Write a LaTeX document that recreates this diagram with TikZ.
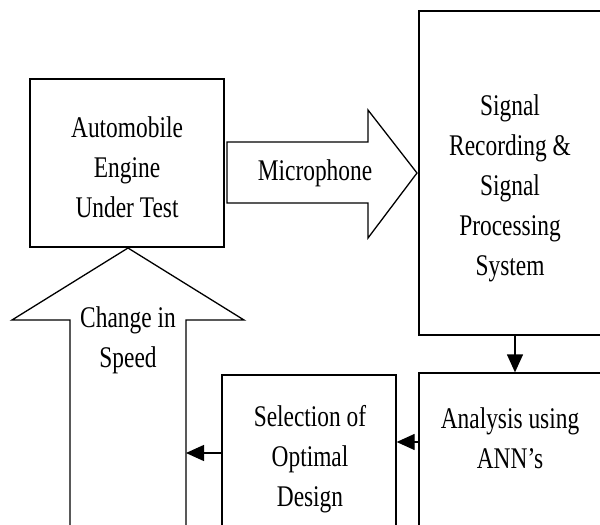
\documentclass[tikz,border=0pt]{standalone}
\usepackage{fontspec}
\newfontfamily\condfont[FakeStretch=0.78]{Liberation Serif}
\usetikzlibrary{arrows.meta}

\begin{document}
\begin{tikzpicture}[x=1pt,y=-1pt,
    blk/.style={draw, line width=1.3pt, inner sep=0pt},
    lbl/.style={font=\condfont\fontsize{30}{40}\selectfont, align=center, inner sep=0pt},
    fatarrow/.style={draw, line width=1.3pt, line join=miter},
    flow/.style={line width=1.3pt, -{Triangle[length=18pt,width=16pt]}}]
      \useasboundingbox (0,0) rectangle (600,525);
      \clip (0,0) rectangle (600,525);
      %%%%%%%%%%%%%%%%%%%%%%%%%%%%%%%%%%%%%%%%%%%%%%%
      \node[blk, minimum width=194pt, minimum height=168pt] (engine) at (127,163) {};
      \node[lbl] (enginetxt) at (127,167) {Automobile\\Engine\\Under Test};
      %%%%%%%%%%%%%%%%%%%%%%%%%%%%%%%%%%%%%%%%%%%%%%%
      \draw[fatarrow] (227,142) -- (368,142) -- (368,110) -- (417,173)
                      -- (368,238) -- (368,203) -- (227,203) -- cycle;
      \node[lbl] (mic) at (315,173) {Microphone};
      %%%%%%%%%%%%%%%%%%%%%%%%%%%%%%%%%%%%%%%%%%%%%%%
      \node[blk, minimum width=182pt, minimum height=324pt] (signal) at (510,173) {};
      \node[lbl] (signaltxt) at (510,188) {Signal\\Recording \&\\Signal\\Processing\\System};
      %%%%%%%%%%%%%%%%%%%%%%%%%%%%%%%%%%%%%%%%%%%%%%%
      \node[blk, minimum width=182pt, minimum height=154pt] (ann) at (510,450) {};
      \node[lbl] (anntxt) at (510,438) {Analysis using\\ANN’s};
      %%%%%%%%%%%%%%%%%%%%%%%%%%%%%%%%%%%%%%%%%%%%%%%
      \node[blk, minimum width=174pt, minimum height=152pt] (sel) at (309,451) {};
      \node[lbl] (seltxt) at (310,459) {Selection of\\Optimal\\Design};
      %%%%%%%%%%%%%%%%%%%%%%%%%%%%%%%%%%%%%%%%%%%%%%%
      \draw[fatarrow] (70,530) -- (70,320) -- (12,320) -- (128,248)
                      -- (244,320) -- (186,320) -- (186,530);
      \node[lbl] (speed) at (128,340) {Change in\\Speed};
      \coordinate (shaft) at (186,453);
      %%%%%%%%%%%%%%%%%%%%%%%%%%%%%%%%%%%%%%%%%%%%%%%
      \draw[flow] ([xshift=5pt]signal.south) -- ([xshift=5pt]ann.north);
      \draw[flow] ([yshift=8pt]ann.west) -- ([yshift=8pt]ann.west -| sel.east);
      \draw[flow] (sel.west |- shaft) -- (shaft);
\end{tikzpicture}
\end{document}
